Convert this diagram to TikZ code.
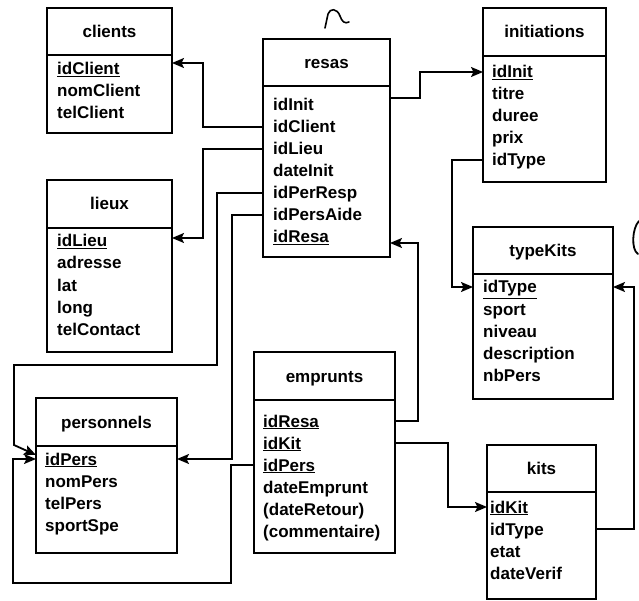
\documentclass[tikz,border=0pt]{standalone}
\usepackage{fontspec}
\setmainfont{Liberation Sans}
\usetikzlibrary{arrows.meta, positioning, calc}

\begin{document}
\begin{tikzpicture}[x=1pt, y=-1pt, >={Stealth[length=12pt, width=10pt, inset=2.5pt]},
        font=\fontsize{17}{20}\selectfont\bfseries,
        head/.style={draw, line width=1.8pt, anchor=north west, outer sep=0pt,
                     inner sep=0pt, text height=12pt, text depth=0pt},
        body/.style={draw, line width=1.8pt, outer sep=0pt, inner sep=0pt},
        attr/.style={anchor=west, inner sep=0pt, text height=12pt, text depth=0pt},
        fk/.style={->, line width=1.8pt}]
      \useasboundingbox (0,0) rectangle (639,601);

      % tables
      \node[head, minimum width=125pt, minimum height=47pt] (clients) at (47,8) {clients};
      \node[body, minimum width=125pt, minimum height=78pt, below=0pt of clients] (clientsB) {};
      \foreach \a [count=\i] in {\underline{idClient}, nomClient, telClient}
        \node[attr] (clients-\i) at (57, 47+22*\i) {\a};

      \node[head, minimum width=125pt, minimum height=48pt] (lieux) at (47,180) {lieux};
      \node[body, minimum width=125pt, minimum height=124pt, below=0pt of lieux] (lieuxB) {};
      \foreach \a [count=\i] in {\underline{idLieu}, adresse, lat, long, telContact}
        \node[attr] (lieux-\i) at (57, 219+22*\i) {\a};

      \node[head, minimum width=127pt, minimum height=47pt] (resas) at (263,39) {resas};
      \node[body, minimum width=127pt, minimum height=171pt, below=0pt of resas] (resasB) {};
      \foreach \a [count=\i] in {idInit, idClient, idLieu, dateInit, idPerResp, idPersAide, \underline{idResa}}
        \node[attr] (resas-\i) at (273, 83+22*\i) {\a};

      \node[head, minimum width=123pt, minimum height=48pt] (init) at (483,8) {initiations};
      \node[body, minimum width=123pt, minimum height=126pt, below=0pt of init] (initB) {};
      \foreach \a [count=\i] in {\underline{idInit}, titre, duree, prix, idType}
        \node[attr] (init-\i) at (492, 50+22*\i) {\a};

      \node[head, minimum width=140pt, minimum height=47pt] (tk) at (473,227) {typeKits};
      \node[body, minimum width=140pt, minimum height=125pt, below=0pt of tk] (tkB) {};
      \foreach \a [count=\i] in {\underline{idType}, sport, niveau, description, nbPers}
        \node[attr] (tk-\i) at (483, 265+22*\i) {\a};

      \node[head, minimum width=141pt, minimum height=48pt] (pers) at (36,398) {personnels};
      \node[body, minimum width=141pt, minimum height=107pt, below=0pt of pers] (persB) {};
      \foreach \a [count=\i] in {\underline{idPers}, nomPers, telPers, sportSpe}
        \node[attr] (pers-\i) at (45, 437+22*\i) {\a};

      \node[head, minimum width=141pt, minimum height=48pt] (emp) at (254,352) {emprunts};
      \node[body, minimum width=141pt, minimum height=153pt, below=0pt of emp] (empB) {};
      \foreach \a [count=\i] in {\underline{idResa}, \underline{idKit}, \underline{idPers}, dateEmprunt, (dateRetour), (commentaire)}
        \node[attr] (emp-\i) at (263, 399+22*\i) {\a};

      \node[head, minimum width=109pt, minimum height=47pt] (kits) at (487,445) {kits};
      \node[body, minimum width=109pt, minimum height=107pt, below=0pt of kits] (kitsB) {};
      \foreach \a [count=\i] in {\underline{idKit}, idType, etat, dateVerif}
        \node[attr] (kits-\i) at (490, 485+22*\i) {\a};

      % foreign keys
      \draw[fk] (resas-2 -| resasB.west) -- ++(-60,0) |- ($(clients-1 -| clientsB.east)+(0,-6)$);
      \draw[fk] (resas-3 -| resasB.west) -- ++(-60,0) |- ($(lieux-1 -| lieuxB.east)+(0,-3)$);
      \draw[fk] (resas-5 -| resasB.west) -- ++(-46,0) |- ++(-203,172) -- ++(0,80)
                -- ($(pers-1 -| persB.west)+(0,-4)$);
      \draw[fk] (resas-6 -| resasB.west) -- ++(-31,0) |- (pers-1 -| persB.east);
      \draw[fk] (emp-3 -| empB.west) -- ++(-23,0) -- ++(0,118) -- ++(-218,0) |- (pers-1 -| persB.west);
      \draw[fk] ($(resas-1 -| resasB.east)+(0,-7)$) -- ++(30,0) |- (init-1 -| initB.west);
      \draw[fk] (init-5 -| initB.west) -- ++(-31,0) |- (tk-1 -| tkB.west);
      \draw[fk] (emp-1 -| empB.east) -- ++(23,0) |- ($(resas-7 -| resasB.east)+(0,6)$);
      \draw[fk] (emp-2 -| empB.east) -- ++(53,0) |- (kits-1 -| kitsB.west);
      \draw[fk] (kits-2 -| kitsB.east) -- ++(38,0) |- (tk-1 -| tkB.east);

      % pen marks
      \draw[line width=1.6pt, line cap=round, line join=round] (325,28) -- (328,14)
            .. controls (330,8) and (337,8) .. (340,16) .. controls (342,22) and (345,24) .. (349,22);
      \draw[line width=1.8pt, line cap=round] (639,221) .. controls (632,228) and (631,250) .. (638,254);
    \end{tikzpicture}
\end{document}
